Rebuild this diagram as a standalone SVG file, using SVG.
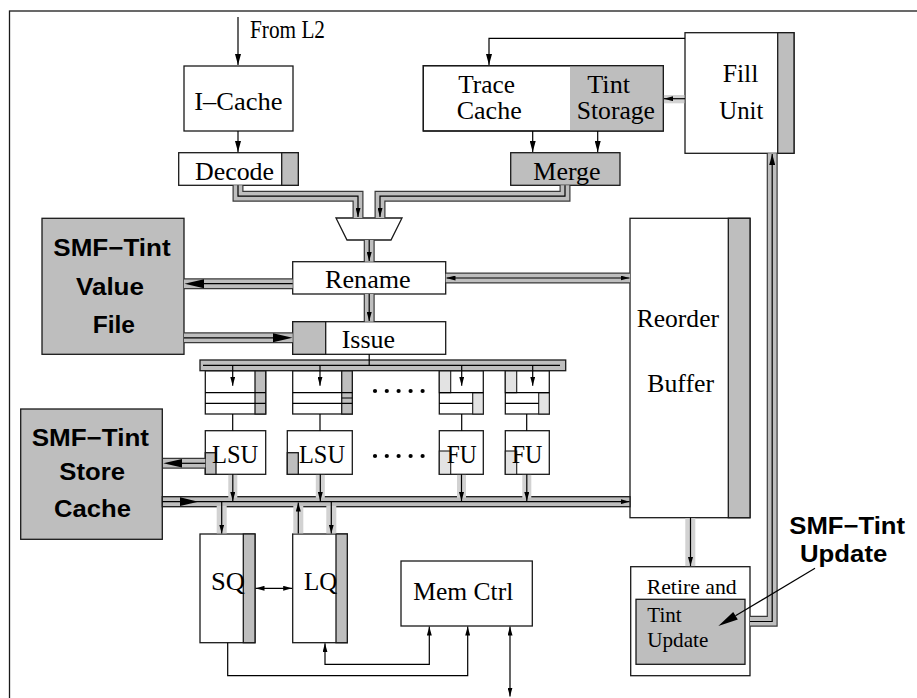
<svg xmlns="http://www.w3.org/2000/svg" width="917" height="698" viewBox="0 0 917 698">
<style>
.box{fill:#fff;stroke:#1a1a1a;stroke-width:1.3}
.g{fill:#bebebe;stroke:#1a1a1a;stroke-width:1.3}
.lg{fill:#e3e3e3;stroke:#1a1a1a;stroke-width:1.1}
.t{font-family:"Liberation Serif","Times New Roman",serif;font-size:25px;fill:#000}
.ts{font-family:"Liberation Serif","Times New Roman",serif;font-size:21px;fill:#000}
.b{font-family:"Liberation Sans",Arial,sans-serif;font-weight:bold;font-size:24px;fill:#000}
.ln{fill:none;stroke:#000;stroke-width:1.2}
.bo{fill:none;stroke:#3a3a3a;stroke-width:11;stroke-linejoin:miter}
.bi{fill:none;stroke:#bebebe;stroke-width:8.6;stroke-linejoin:miter}
.lb{fill:#d2d2d2}
.dot{fill:#000}
</style>
<defs>
<marker id="a" viewBox="0 0 11 6" refX="11" refY="3" markerWidth="11" markerHeight="6" markerUnits="userSpaceOnUse" orient="auto-start-reverse"><path d="M0,0 L11,3 L0,6 z" fill="#000"/></marker>
<marker id="as" viewBox="0 0 9 5" refX="9" refY="2.5" markerWidth="9" markerHeight="5" markerUnits="userSpaceOnUse" orient="auto-start-reverse"><path d="M0,0 L9,2.5 L0,5 z" fill="#000"/></marker>
</defs>
<rect x="9.5" y="11" width="920" height="700" fill="none" stroke="#1a1a1a" stroke-width="1.3"/>

<g id="from-l2"><text class="t" x="250" y="38" font-size="18" textLength="75" lengthAdjust="spacingAndGlyphs">From L2</text></g>

<g id="icache">
  <rect class="box" x="184" y="66" width="109" height="65"/>
  <text class="t" x="194.3" y="110" textLength="88.3" lengthAdjust="spacingAndGlyphs">I–Cache</text>
</g>

<g id="decode">
  <rect class="box" x="178.7" y="152.7" width="119.6" height="32.6"/>
  <rect class="g" x="281.7" y="152.7" width="16.6" height="32.6"/>
  <text class="t" x="195" y="180" textLength="79" lengthAdjust="spacingAndGlyphs">Decode</text>
</g>

<g id="trace-cache">
  <rect class="box" x="423.3" y="65.7" width="240" height="65.3"/>
  <rect x="570" y="65.7" width="93.3" height="65.3" fill="#bebebe"/>
  <rect x="423.3" y="65.7" width="240" height="65.3" fill="none" stroke="#1a1a1a" stroke-width="1.3"/>
  <text class="t" x="458.3" y="92.7" textLength="56.7" lengthAdjust="spacingAndGlyphs">Trace</text>
  <text class="t" x="456.7" y="119.3" textLength="65" lengthAdjust="spacingAndGlyphs">Cache</text>
  <text class="t" x="587.3" y="92.7" textLength="42.7" lengthAdjust="spacingAndGlyphs">Tint</text>
  <text class="t" x="576.7" y="119.3" textLength="78.3" lengthAdjust="spacingAndGlyphs">Storage</text>
</g>

<g id="fill-unit">
  <rect class="box" x="685" y="32.7" width="109" height="120.6"/>
  <rect class="g" x="777.7" y="32.7" width="16.3" height="120.6"/>
  <text class="t" x="722.7" y="81.7" textLength="35.7" lengthAdjust="spacingAndGlyphs">Fill</text>
  <text class="t" x="719.3" y="119.3" textLength="44" lengthAdjust="spacingAndGlyphs">Unit</text>
</g>

<g id="merge">
  <rect class="g" x="510.7" y="152.7" width="109.3" height="32.6"/>
  <text class="t" x="533.3" y="180" textLength="67.3" lengthAdjust="spacingAndGlyphs">Merge</text>
</g>

<g id="mux">
  <polygon points="336,218 402,218 391,240 347,240" fill="#fff" stroke="#1a1a1a" stroke-width="1.3"/>
</g>

<g id="value-file">
  <rect class="g" x="42" y="218.3" width="142" height="136"/>
  <text class="b" x="53.3" y="256" textLength="117.3" lengthAdjust="spacingAndGlyphs">SMF−Tint</text>
  <text class="b" x="76" y="295" textLength="68" lengthAdjust="spacingAndGlyphs">Value</text>
  <text class="b" x="92.7" y="332.7" textLength="42.3" lengthAdjust="spacingAndGlyphs">File</text>
</g>

<g id="rename">
  <rect class="box" x="292.7" y="261.7" width="153" height="32.3"/>
  <text class="t" x="325" y="288.3" textLength="85.7" lengthAdjust="spacingAndGlyphs">Rename</text>
</g>

<g id="issue">
  <rect class="box" x="292.7" y="321.7" width="153" height="32.6"/>
  <rect class="g" x="292.7" y="321.7" width="33" height="32.6"/>
  <text class="t" x="341.7" y="348.3" textLength="53.3" lengthAdjust="spacingAndGlyphs">Issue</text>
</g>

<g id="queue1">
  <rect class="box" x="205.3" y="370.7" width="60.4" height="43.3"/>
  <rect class="g" x="255" y="370.7" width="10.7" height="43.3"/>
  <path class="ln" d="M205.3,392.7 H265.7 M205.3,403.3 H265.7"/>
</g>
<g id="queue2">
  <rect class="box" x="292.7" y="370.7" width="59.6" height="43.3"/>
  <rect class="g" x="341.7" y="370.7" width="10.6" height="43.3"/>
  <path class="ln" d="M292.7,392.7 H352.3 M292.7,403.3 H352.3 M341.7,398 H352.3"/>
</g>
<g id="queue3">
  <rect class="box" x="439.3" y="370.7" width="44" height="43.3"/>
  <rect class="lg" x="439.3" y="370.7" width="11.4" height="22"/>
  <rect class="lg" x="472.7" y="392.7" width="10.6" height="21.3"/>
  <path class="ln" d="M439.3,392.7 H483.3 M439.3,403.3 H472.7"/>
</g>
<g id="queue4">
  <rect class="box" x="505.3" y="370.7" width="44" height="43.3"/>
  <rect class="lg" x="505.3" y="370.7" width="11.4" height="22"/>
  <rect class="lg" x="538.7" y="392.7" width="10.6" height="21.3"/>
  <path class="ln" d="M505.3,392.7 H549.3 M505.3,403.3 H538.7"/>
</g>

<g id="dots">
  <circle class="dot" cx="375" cy="391" r="2.1"/><circle class="dot" cx="386.8" cy="391" r="2.1"/><circle class="dot" cx="398.6" cy="391" r="2.1"/><circle class="dot" cx="410.6" cy="391" r="2.1"/><circle class="dot" cx="422.6" cy="391" r="2.1"/>
  <circle class="dot" cx="375" cy="456" r="2.1"/><circle class="dot" cx="386.8" cy="456" r="2.1"/><circle class="dot" cx="398.6" cy="456" r="2.1"/><circle class="dot" cx="410.6" cy="456" r="2.1"/><circle class="dot" cx="422.6" cy="456" r="2.1"/>
</g>

<g id="lsu1">
  <rect class="box" x="205.3" y="430.7" width="60.4" height="43.6"/>
  <rect class="g" x="205.3" y="452.7" width="10.7" height="21.6"/>
  <text class="t" x="212" y="463.3" textLength="46.3" lengthAdjust="spacingAndGlyphs">LSU</text>
</g>
<g id="lsu2">
  <rect class="box" x="287.3" y="430.7" width="65" height="43.6"/>
  <rect class="g" x="287.3" y="452.7" width="11" height="21.6"/>
  <text class="t" x="299" y="463.3" textLength="46" lengthAdjust="spacingAndGlyphs">LSU</text>
</g>
<g id="fu1">
  <rect class="box" x="439.3" y="430.7" width="44" height="43.6"/>
  <rect class="lg" x="439.3" y="451" width="11.4" height="23.3"/>
  <text class="t" x="446.7" y="463.3" textLength="30" lengthAdjust="spacingAndGlyphs">FU</text>
</g>
<g id="fu2">
  <rect class="box" x="505.3" y="430.7" width="44" height="43.6"/>
  <rect class="lg" x="505.3" y="451" width="11.4" height="23.3"/>
  <text class="t" x="511.7" y="463.3" textLength="30.7" lengthAdjust="spacingAndGlyphs">FU</text>
</g>

<g id="store-cache">
  <rect class="g" x="20.7" y="409" width="141.6" height="130.3"/>
  <text class="b" x="31.7" y="446" textLength="117.3" lengthAdjust="spacingAndGlyphs">SMF−Tint</text>
  <text class="b" x="59.3" y="480" textLength="65.7" lengthAdjust="spacingAndGlyphs">Store</text>
  <text class="b" x="54" y="517.3" textLength="77" lengthAdjust="spacingAndGlyphs">Cache</text>
</g>

<g id="sq">
  <rect class="box" x="200" y="534" width="55" height="108.7"/>
  <rect class="g" x="243.3" y="534" width="11.7" height="108.7"/>
  <text class="t" x="211" y="589.5" textLength="34" lengthAdjust="spacingAndGlyphs">SQ</text>
</g>
<g id="lq">
  <rect class="box" x="292.7" y="534" width="54.6" height="108.7"/>
  <rect class="g" x="336" y="534" width="11.3" height="108.7"/>
  <text class="t" x="304" y="589.5" textLength="33.3" lengthAdjust="spacingAndGlyphs">LQ</text>
</g>

<g id="mem-ctrl">
  <rect class="box" x="401" y="561" width="131.3" height="65"/>
  <text class="t" x="413.3" y="600" textLength="100" lengthAdjust="spacingAndGlyphs">Mem Ctrl</text>
</g>

<g id="rob">
  <rect class="box" x="630" y="218.3" width="120" height="299.4"/>
  <rect class="g" x="728.3" y="218.3" width="21.7" height="299.4"/>
  <text class="t" x="636.7" y="326.7" textLength="82.3" lengthAdjust="spacingAndGlyphs">Reorder</text>
  <text class="t" x="647.3" y="392.3" textLength="66.7" lengthAdjust="spacingAndGlyphs">Buffer</text>
</g>

<g id="retire">
  <rect class="box" x="630.7" y="566.7" width="119.3" height="109"/>
  <rect class="g" x="636" y="599.3" width="109" height="65"/>
  <text class="ts" x="646.7" y="594" textLength="90" lengthAdjust="spacingAndGlyphs">Retire and</text>
  <text class="ts" x="647.3" y="621.7" textLength="34.3" lengthAdjust="spacingAndGlyphs">Tint</text>
  <text class="ts" x="647.3" y="647" textLength="61" lengthAdjust="spacingAndGlyphs">Update</text>
</g>

<g id="update-label">
  <text class="b" x="789.3" y="534" font-size="22" textLength="115.7" lengthAdjust="spacingAndGlyphs">SMF−Tint</text>
  <text class="b" x="800" y="561.7" font-size="22" textLength="87.3" lengthAdjust="spacingAndGlyphs">Update</text>
</g>

<g id="connectors">
  <path class="bo" d="M238,185.3 V196.2 H358 V218"/>
  <path class="bi" d="M238,185.3 V196.2 H358 V218"/>
  <path class="bo" d="M565,185.3 V196.2 H380 V218"/>
  <path class="bi" d="M565,185.3 V196.2 H380 V218"/>
  <path class="bo" d="M369.2,240 V261.7"/>
  <path class="bi" d="M369.2,240 V261.7"/>
  <path class="bo" d="M369.2,294 V321.7"/>
  <path class="bi" d="M369.2,294 V321.7"/>
  <path class="bo" d="M292.7,283.7 H184"/>
  <path class="bi" d="M292.7,283.7 H184"/>
  <path class="bo" d="M184,337.8 H292.7"/>
  <path class="bi" d="M184,337.8 H292.7"/>
  <path class="bo" d="M445.7,278 H630"/>
  <path class="bi" d="M445.7,278 H630"/>
  <path class="bo" d="M163,463.3 H205.3"/>
  <path class="bi" d="M163,463.3 H205.3"/>
  <path class="bo" d="M750,621.2 H772.2 V153.3"/>
  <path class="bi" d="M750,621.2 H772.2 V153.3"/>
  <rect x="200" y="360" width="365.7" height="10.7" class="g"/>
  <rect x="162.3" y="496.7" width="467.7" height="10" class="g"/>

  <rect class="lb" x="228.3" y="474.9" width="9" height="23"/>
  <rect class="lb" x="315.8" y="474.9" width="9" height="23"/>
  <rect class="lb" x="457" y="474.9" width="9" height="23"/>
  <rect class="lb" x="522.3" y="474.9" width="9" height="23"/>
  <rect class="lb" x="216.7" y="505.8" width="10" height="27.6"/>
  <rect class="lb" x="293.3" y="505.8" width="10" height="27.6"/>
  <rect class="lb" x="326.3" y="505.8" width="10" height="27.6"/>
  <rect class="lb" x="685.3" y="518.3" width="10" height="47.8"/>
  <rect class="lb" x="663.9" y="95" width="20.5" height="8.3"/>

  <path class="ln" d="M238,185.3 V196.2 H358 V217" marker-end="url(#as)"/>
  <path class="ln" d="M565,185.3 V196.2 H380 V217" marker-end="url(#as)"/>
  <path class="ln" d="M369.2,240 V261" marker-end="url(#as)"/>
  <path class="ln" d="M369.2,294 V321" marker-end="url(#as)"/>
  <path class="ln" d="M292.7,283.7 H200"/>
  <polygon points="184.5,283.7 204,279.2 204,288.2" fill="#000"/>
  <path class="ln" d="M184,337.8 H276"/>
  <polygon points="292.5,337.8 273,333.3 273,342.3" fill="#000"/>
  <path class="ln" d="M446.5,278 H629.5" marker-start="url(#as)" marker-end="url(#as)"/>
  <path class="ln" d="M205.3,463.3 H178"/>
  <polygon points="163.3,463.3 182,459 182,467.6" fill="#000"/>
  <path class="ln" d="M750,621.5 H772.2 V154" marker-end="url(#a)"/>
  <path class="ln" d="M369.2,354.3 V365.3"/>
  <path class="ln" d="M203,365.3 H560"/>
  <path class="ln" d="M232.7,365.3 V385.7" marker-end="url(#as)"/>
  <path class="ln" d="M320,365.3 V385.7" marker-end="url(#as)"/>
  <path class="ln" d="M461.7,365.3 V385.7" marker-end="url(#as)"/>
  <path class="ln" d="M532.7,365.3 V385.7" marker-end="url(#as)"/>
  <path class="ln" d="M232.7,414 V430.7"/>
  <path class="ln" d="M320,414 V430.7"/>
  <path class="ln" d="M461.7,414 V430.7"/>
  <path class="ln" d="M526.7,414 V430.7"/>
  <path class="ln" d="M162.3,501.7 H629.5" marker-end="url(#as)"/>
  <polygon points="198.3,501.7 180,497.3 180,506.1" fill="#000"/>
  <path class="ln" d="M232.8,474.3 V501" marker-end="url(#as)"/>
  <path class="ln" d="M320.3,474.3 V501" marker-end="url(#as)"/>
  <path class="ln" d="M461.5,474.3 V501" marker-end="url(#as)"/>
  <path class="ln" d="M526.8,474.3 V501" marker-end="url(#as)"/>
  <path class="ln" d="M221.7,501.7 V533.5" marker-end="url(#as)"/>
  <path class="ln" d="M298.3,533.5 V502.5" marker-end="url(#as)"/>
  <path class="ln" d="M331.3,501.7 V533.5" marker-end="url(#as)"/>
  <path class="ln" d="M690.5,517.7 V566" marker-end="url(#as)"/>
  <path class="ln" d="M685,98.7 H664" marker-end="url(#as)"/>

  <path class="ln" d="M238,17 V65" marker-end="url(#a)"/>
  <path class="ln" d="M238,131 V152" marker-end="url(#a)"/>
  <path class="ln" d="M685,38.3 H489 V65" marker-end="url(#a)"/>
  <path class="ln" d="M532.7,131 V152" marker-end="url(#a)"/>
  <path class="ln" d="M597.7,131 V152" marker-end="url(#a)"/>
  <path class="ln" d="M255.5,588.3 H292.2" marker-start="url(#as)" marker-end="url(#as)"/>
  <path class="ln" d="M325,643.3 V664.3 H429.3 V626.6" marker-start="url(#as)" marker-end="url(#as)"/>
  <path class="ln" d="M227.7,642.7 V675.7 H467.7 V626.6" marker-end="url(#as)"/>
  <path class="ln" d="M510,626.6 V696.5" marker-start="url(#as)" marker-end="url(#as)"/>
  <path class="ln" d="M815,568.3 L735.5,615.8"/>
  <polygon points="718.3,626 737.8,619.6 733.2,611.9" fill="#000"/>
</g>
</svg>
